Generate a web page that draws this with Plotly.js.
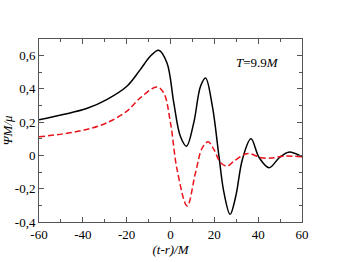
<!DOCTYPE html>
<html><head><meta charset="utf-8">
<script src="https://cdn.plot.ly/plotly-3.0.1.min.js"></script>
<style>html,body{margin:0;padding:0;background:#fff}#plot{width:339px;height:262px}</style>
</head><body><div id="plot"></div>
<script>
var xSolid = [-60,-49,-38.3,-29.1,-19.9,-13.8,-9.2,-5.4,-1.6,1.5,4.5,7.3,10.6,13.7,16,19.1,22.1,24.4,27.2,29.8,32.8,36.7,40.5,45,49.6,53.9,60];
var ySolid = [0.214,0.246,0.282,0.336,0.416,0.516,0.596,0.632,0.556,0.316,0.116,0.056,0.196,0.416,0.466,0.296,-0.004,-0.224,-0.354,-0.244,-0.024,0.1,-0.014,-0.074,-0.014,0.02,-0.008];
var xDash = [-60,-49,-38.3,-29.1,-19.9,-13.8,-6.2,-3.1,0,3,7.6,11.4,14.5,17.2,19.8,22.9,25.9,29,33.6,35.9,41.2,45.8,51.9,60];
var yDash = [0.112,0.13,0.156,0.196,0.266,0.346,0.412,0.376,0.196,-0.084,-0.304,-0.104,0.046,0.082,0.036,-0.044,-0.064,-0.034,0.006,0.012,-0.014,-0.016,-0.004,-0.008];
var xTicks = [-60,-40,-20,0,20,40,60];
var xTickText = ["-60","-40","-20","0","20","40","60"];
var yTicks = [-0.4,-0.2,0,0.2,0.4,0.6];
var yTickText = ["-0,4","-0,2","0","0,2","0,4","0,6"];
var font = {family:"Liberation Serif, Times New Roman, serif", size:13, color:"#000"};
var axisCommon = {showline:true, linecolor:"#555", linewidth:1, mirror:"ticks", ticks:"inside", ticklen:5, tickcolor:"#555", showgrid:false, zeroline:false, tickfont:font, tickmode:"array"};
var layout = {
  width:339, height:262, margin:{l:39,r:37,t:39,b:40},
  paper_bgcolor:"#fff", plot_bgcolor:"#fff", showlegend:false, font:font,
  xaxis: Object.assign({}, axisCommon, {range:[-60,60], tickvals:xTicks, ticktext:xTickText,
    minor:{tick0:-60, dtick:10, ticks:"inside", ticklen:3, tickcolor:"#555"},
    title:{text:"<i>(t-r)/M</i>", font:font, standoff:1}}),
  yaxis: Object.assign({}, axisCommon, {range:[-0.4,0.7], tickvals:yTicks, ticktext:yTickText,
    minor:{tick0:-0.4, dtick:0.1, ticks:"inside", ticklen:3, tickcolor:"#555"},
    title:{text:"<i>ΨM/μ</i>", font:font, standoff:0}}),
  annotations:[{x:39.7, y:0.56, xref:"x", yref:"y", text:"<i>T</i>=9.9<i>M</i>", showarrow:false, font:font}]
};
var data = [
  {x:xSolid, y:ySolid, mode:"lines", line:{color:"#000", width:1.5, shape:"spline", smoothing:1}},
  {x:xDash, y:yDash, mode:"lines", line:{color:"#e8121a", width:1.5, dash:"6px,3px", shape:"spline", smoothing:1}}
];
Plotly.newPlot("plot", data, layout, {staticPlot:true, displayModeBar:false});
</script></body></html>
